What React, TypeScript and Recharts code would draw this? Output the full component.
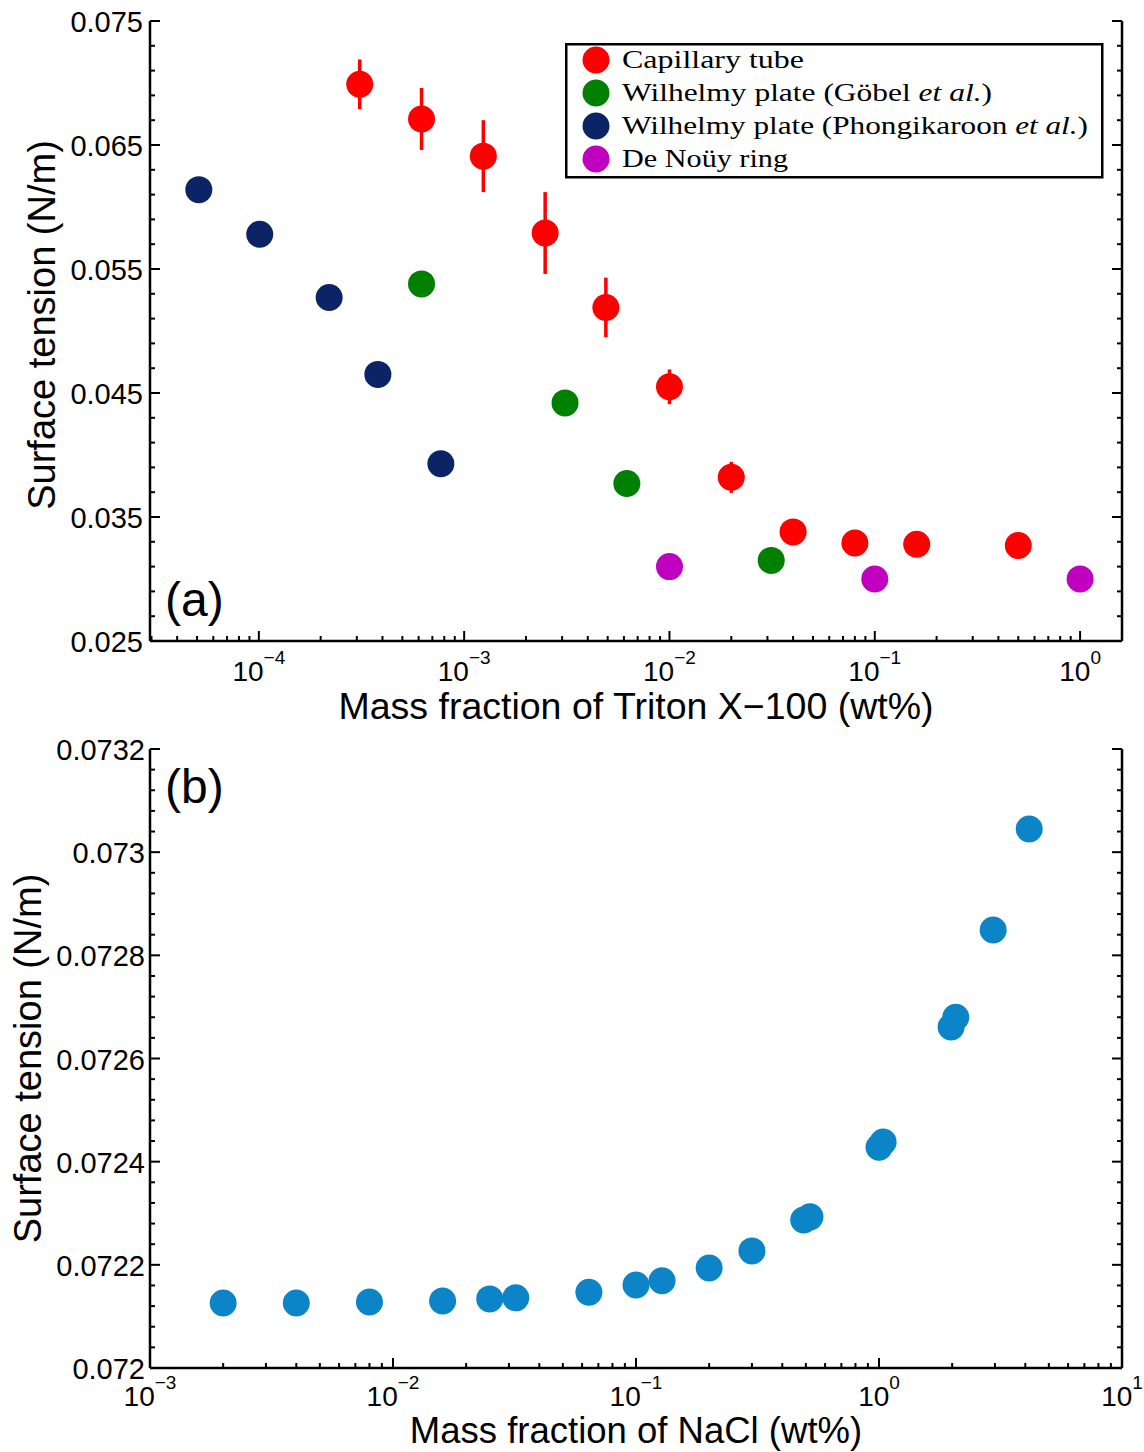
import React from 'react';
import { ScatterChart, Scatter, XAxis, YAxis, ErrorBar, Legend } from 'recharts';

const SANS = '"Liberation Sans", Arial, Helvetica, sans-serif';
const SERIF = '"Liberation Serif", "DejaVu Serif", serif';

// ---------- Panel (a): Triton X-100 ----------
const capillaryX = [3.1e-4, 6.2e-4, 1.24e-3, 2.48e-3, 4.9e-3, 0.01, 0.02, 0.04, 0.08, 0.16, 0.5];
const capillaryY = [0.0699, 0.0671, 0.0641, 0.0579, 0.0519, 0.0455, 0.0382, 0.0338, 0.0329, 0.0328, 0.0327];
const capillaryErr = [0.002, 0.0025, 0.0029, 0.0033, 0.0024, 0.0014, 0.00125, 0.0008, 0.0006, 0.0006, 0.0006];
const gobelX = [6.2e-4, 3.1e-3, 6.2e-3, 0.0313];
const gobelY = [0.0538, 0.0442, 0.0377, 0.0315];
const phongX = [5.1e-5, 1.01e-4, 2.2e-4, 3.8e-4, 7.7e-4];
const phongY = [0.0614, 0.0578, 0.0527, 0.0465, 0.0393];
const ringX = [0.01, 0.1, 1.0];
const ringY = [0.031, 0.03, 0.03];

const seriesNamesA = [
  'Capillary tube',
  'Wilhelmy plate (Göbel et al.)',
  'Wilhelmy plate (Phongikaroon et al.)',
  'De Noüy ring',
];

const xDomainA = [2.95e-5, 1.6];
const xMajorA = [1e-4, 1e-3, 1e-2, 1e-1, 1];
const xMajorLabelsA = ['−4', '−3', '−2', '−1', '0'];
const yDomainA = [0.025, 0.075];
const yMajorA = [0.025, 0.035, 0.045, 0.055, 0.065, 0.075];
const yMajorLabelsA = ['0.025', '0.035', '0.045', '0.055', '0.065', '0.075'];
const yMinorStepA = 0.002;

// ---------- Panel (b): NaCl ----------
const naclX = [0.002, 0.004, 0.008, 0.016, 0.025, 0.032, 0.064, 0.1, 0.128, 0.2, 0.3, 0.49, 0.52, 1.0, 1.04, 1.98, 2.07, 2.95, 4.15];
const naclY = [0.072126, 0.072126, 0.072128, 0.07213, 0.072134, 0.072136, 0.072147, 0.072161, 0.072169, 0.072194, 0.072227, 0.072287, 0.072293, 0.072428, 0.072438, 0.072661, 0.07268, 0.072849, 0.073045];

const xDomainB = [1e-3, 10];
const xMajorB = [1e-3, 1e-2, 1e-1, 1, 10];
const xMajorLabelsB = ['−3', '−2', '−1', '0', '1'];
const yDomainB = [0.072, 0.0732];
const yMajorB = [0.072, 0.0722, 0.0724, 0.0726, 0.0728, 0.073, 0.0732];
const yMajorLabelsB = ['0.072', '0.0722', '0.0724', '0.0726', '0.0728', '0.073', '0.0732'];
const yMinorStepB = 0.00004;

// ---------- colours ----------
const RED = '#ff0000';
const GREEN = '#008000';
const NAVY = '#0b2466';
const MAGENTA = '#bf00bf';
const BLUE = '#0b85c7';

// ---------- built tables ----------
const capillaryData = capillaryX.map((x, i) => ({ x, y: capillaryY[i], err: capillaryErr[i] }));
const gobelData = gobelX.map((x, i) => ({ x, y: gobelY[i] }));
const phongData = phongX.map((x, i) => ({ x, y: phongY[i] }));
const ringData = ringX.map((x, i) => ({ x, y: ringY[i] }));
const naclData = naclX.map((x, i) => ({ x, y: naclY[i] }));

function logTicks(domain: number[]) {
  const out: number[] = [];
  const k0 = Math.floor(Math.log10(domain[0]));
  const k1 = Math.ceil(Math.log10(domain[1]));
  for (let k = k0; k <= k1; k++) {
    for (let m = 1; m <= 9; m++) {
      const v = m * Math.pow(10, k);
      if (v >= domain[0] * 0.999999 && v <= domain[1] * 1.000001) out.push(v);
    }
  }
  return out;
}
function linTicks(domain: number[], step: number) {
  const n = Math.round((domain[1] - domain[0]) / step);
  const out: number[] = [];
  for (let i = 0; i <= n; i++) out.push(+(domain[0] + i * step).toFixed(8));
  return out;
}

const xTicksA = logTicks(xDomainA);
const xTicksB = logTicks(xDomainB);
const yTicksA = linTicks(yDomainA, yMinorStepA);
const yTicksB = linTicks(yDomainB, yMinorStepB);

const findMajor = (majors: number[], v: number) =>
  majors.findIndex((m) => Math.abs(m - v) <= Math.abs(m) * 1e-7);

const MAJOR_LEN = 10;
const MINOR_LEN = 5;

function makeXTick(majors: number[], labels: string[], side: 'bottom' | 'top', dy = 40) {
  return (props: any) => {
    const { x, y, payload } = props;
    const idx = findMajor(majors, payload.value);
    const len = idx >= 0 ? MAJOR_LEN : MINOR_LEN;
    const dir = side === 'bottom' ? -1 : 1;
    return (
      <g>
        <line x1={x} x2={x} y1={y} y2={y + dir * len} stroke="#000" strokeWidth={2} />
        {side === 'bottom' && idx >= 0 && (
          <text x={x} y={y + dy} textAnchor="middle" fontFamily={SANS} fontSize={28} fill="#000">
            10
            <tspan dy={-17} fontSize={19}>
              {labels[idx]}
            </tspan>
          </text>
        )}
      </g>
    );
  };
}

function makeYTick(majors: number[], labels: string[], side: 'left' | 'right', gap: number) {
  return (props: any) => {
    const { x, y, payload } = props;
    const idx = findMajor(majors, payload.value);
    const len = idx >= 0 ? MAJOR_LEN : MINOR_LEN;
    const dir = side === 'left' ? 1 : -1;
    return (
      <g>
        <line x1={x} x2={x + dir * len} y1={y} y2={y} stroke="#000" strokeWidth={2} />
        {side === 'left' && idx >= 0 && (
          <text x={x - gap} y={y + 11} textAnchor="end" fontFamily={SANS} fontSize={29} fill="#000">
            {labels[idx]}
          </text>
        )}
      </g>
    );
  };
}

const XTitle = (props: any) => {
  const vb = props.viewBox || { x: 150, y: 641, width: 972, height: 89 };
  return (
    <text
      x={vb.x + vb.width / 2}
      y={vb.y + props.dy}
      textAnchor="middle"
      fontFamily={SANS}
      fontSize={props.fs}
      fill="#000"
    >
      {props.text}
    </text>
  );
};

const YTitle = (props: any) => {
  const vb = props.viewBox || { x: 0, y: 21, width: 150, height: 620 };
  const cx = vb.x + props.cx;
  const cy = vb.y + vb.height / 2 + (props.dyc || 0);
  return (
    <text
      x={cx}
      y={cy}
      transform={`rotate(-90, ${cx}, ${cy})`}
      textAnchor="middle"
      dominantBaseline="central"
      fontFamily={SANS}
      fontSize={38}
      fill="#000"
    >
      {props.text}
    </text>
  );
};

const dot = (color: string) => (p: any) =>
  p.cx == null ? <g /> : <circle cx={p.cx} cy={p.cy} r={13.5} fill={color} />;

const legendTextWidths = [182, 370, 466, 166];

const LegendBox = (props: any) => {
  const items = (props.payload || [])
    .filter((p: any) => p.type !== 'none' && seriesNamesA.includes(p.value))
    .slice()
    .sort((a: any, b: any) => seriesNamesA.indexOf(a.value) - seriesNamesA.indexOf(b.value));
  return (
    <svg width={540} height={137} style={{ display: 'block' }}>
      <rect x={1.25} y={1.25} width={536} height={133} fill="#fff" stroke="#000" strokeWidth={2.5} />
      {items.map((it: any, i: number) => {
        const cy = 17 + i * 33;
        const name: string = it.value;
        const k = seriesNamesA.indexOf(name);
        const parts = name.split('et al.');
        return (
          <g key={name}>
            <circle cx={31} cy={cy} r={13.5} fill={it.color} />
            <text
              x={57}
              y={cy + 8}
              fontFamily={SERIF}
              fontSize={25}
              fill="#000"
              textLength={legendTextWidths[k]}
              lengthAdjust="spacingAndGlyphs"
            >
              {parts.length > 1 ? (
                <>
                  {parts[0]}
                  <tspan fontStyle="italic">et al.</tspan>
                  {parts[1]}
                </>
              ) : (
                name
              )}
            </text>
          </g>
        );
      })}
    </svg>
  );
};

const axisLine = { stroke: '#000', strokeWidth: 2.5 };

export default function App() {
  return (
    <div style={{ position: 'absolute', left: 0, top: 0, width: 1144, height: 1452, background: '#fff' }}>
      <div style={{ position: 'absolute', left: 0, top: 0 }}>
        <ScatterChart width={1144} height={730} margin={{ top: 21, right: 0, bottom: 0, left: 0 }}>
          <XAxis
            xAxisId="b"
            type="number"
            dataKey="x"
            scale="log"
            domain={xDomainA}
            allowDataOverflow
            ticks={xTicksA}
            interval={0}
            height={89}
            tickSize={0}
            tickMargin={0}
            tickLine={false}
            axisLine={axisLine}
            tick={makeXTick(xMajorA, xMajorLabelsA, 'bottom', 40)}
            label={<XTitle text="Mass fraction of Triton X−100 (wt%)" dy={78} fs={37.5} />}
          />
          <XAxis
            xAxisId="t"
            orientation="top"
            type="number"
            dataKey="x"
            scale="log"
            domain={xDomainA}
            allowDataOverflow
            ticks={xTicksA}
            interval={0}
            height={0}
            tickSize={0}
            tickMargin={0}
            tickLine={false}
            axisLine={axisLine}
            tick={makeXTick(xMajorA, xMajorLabelsA, 'top')}
          />
          <YAxis
            yAxisId="l"
            type="number"
            dataKey="y"
            domain={yDomainA}
            allowDataOverflow
            ticks={yTicksA}
            interval={0}
            width={150}
            tickSize={0}
            tickMargin={0}
            tickLine={false}
            axisLine={axisLine}
            tick={makeYTick(yMajorA, yMajorLabelsA, 'left', 7)}
            label={<YTitle text="Surface tension (N/m)" cx={42} dyc={-6} />}
          />
          <YAxis
            yAxisId="r"
            orientation="right"
            type="number"
            dataKey="y"
            domain={yDomainA}
            allowDataOverflow
            ticks={yTicksA}
            interval={0}
            width={22}
            tickSize={0}
            tickMargin={0}
            tickLine={false}
            axisLine={axisLine}
            tick={makeYTick(yMajorA, yMajorLabelsA, 'right', 0)}
          />
          <Legend
            layout="horizontal"
            verticalAlign="middle"
            align="center"
            itemSorter={null as any}
            content={<LegendBox />}
            wrapperStyle={{ position: 'absolute', left: 565, top: 43, width: 540, height: 137 }}
          />
          <Scatter
            xAxisId="b"
            yAxisId="l"
            name={seriesNamesA[0]}
            data={capillaryData}
            fill={RED}
            shape={dot(RED)}
            isAnimationActive={false}
          >
            <ErrorBar dataKey="err" direction="y" width={0} stroke={RED} strokeWidth={3.5} />
          </Scatter>
          <Scatter
            xAxisId="b"
            yAxisId="l"
            name={seriesNamesA[1]}
            data={gobelData}
            fill={GREEN}
            shape={dot(GREEN)}
            isAnimationActive={false}
          />
          <Scatter
            xAxisId="b"
            yAxisId="l"
            name={seriesNamesA[2]}
            data={phongData}
            fill={NAVY}
            shape={dot(NAVY)}
            isAnimationActive={false}
          />
          <Scatter
            xAxisId="b"
            yAxisId="l"
            name={seriesNamesA[3]}
            data={ringData}
            fill={MAGENTA}
            shape={dot(MAGENTA)}
            isAnimationActive={false}
          />
          <Scatter
            xAxisId="t"
            yAxisId="r"
            name="mirror"
            legendType="none"
            data={capillaryData}
            fill="none"
            shape={() => <g />}
            isAnimationActive={false}
          />
        </ScatterChart>
      </div>

      <div style={{ position: 'absolute', left: 0, top: 730 }}>
        <ScatterChart width={1144} height={722} margin={{ top: 19, right: 0, bottom: 0, left: 0 }}>
          <XAxis
            xAxisId="b"
            type="number"
            dataKey="x"
            scale="log"
            domain={xDomainB}
            allowDataOverflow
            ticks={xTicksB}
            interval={0}
            height={84}
            tickSize={0}
            tickMargin={0}
            tickLine={false}
            axisLine={axisLine}
            tick={makeXTick(xMajorB, xMajorLabelsB, 'bottom', 38)}
            label={<XTitle text="Mass fraction of NaCl (wt%)" dy={75} fs={36.5} />}
          />
          <XAxis
            xAxisId="t"
            orientation="top"
            type="number"
            dataKey="x"
            scale="log"
            domain={xDomainB}
            allowDataOverflow
            ticks={xTicksB}
            interval={0}
            height={0}
            tickSize={0}
            tickMargin={0}
            tickLine={false}
            axisLine={axisLine}
            tick={makeXTick(xMajorB, xMajorLabelsB, 'top')}
          />
          <YAxis
            yAxisId="l"
            type="number"
            dataKey="y"
            domain={yDomainB}
            allowDataOverflow
            ticks={yTicksB}
            interval={0}
            width={150}
            tickSize={0}
            tickMargin={0}
            tickLine={false}
            axisLine={axisLine}
            tick={makeYTick(yMajorB, yMajorLabelsB, 'left', 5)}
            label={<YTitle text="Surface tension (N/m)" cx={28} dyc={0} />}
          />
          <YAxis
            yAxisId="r"
            orientation="right"
            type="number"
            dataKey="y"
            domain={yDomainB}
            allowDataOverflow
            ticks={yTicksB}
            interval={0}
            width={22}
            tickSize={0}
            tickMargin={0}
            tickLine={false}
            axisLine={axisLine}
            tick={makeYTick(yMajorB, yMajorLabelsB, 'right', 0)}
          />
          <Scatter
            xAxisId="b"
            yAxisId="l"
            name="NaCl"
            data={naclData}
            fill={BLUE}
            shape={dot(BLUE)}
            isAnimationActive={false}
          />
          <Scatter
            xAxisId="t"
            yAxisId="r"
            name="mirror"
            legendType="none"
            data={naclData}
            fill="none"
            shape={() => <g />}
            isAnimationActive={false}
          />
        </ScatterChart>
      </div>

      <svg
        width={1144}
        height={1452}
        style={{ position: 'absolute', left: 0, top: 0, pointerEvents: 'none' }}
      >
        <text x={165} y={616} fontFamily={SANS} fontSize={48} fill="#000">
          (a)
        </text>
        <text x={165} y={803} fontFamily={SANS} fontSize={48} fill="#000">
          (b)
        </text>
      </svg>
    </div>
  );
}
